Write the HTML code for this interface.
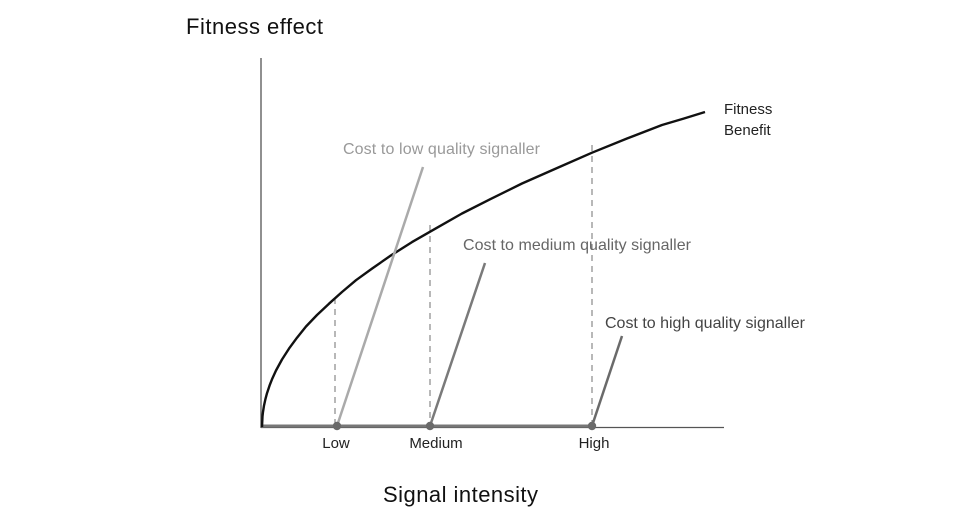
<!DOCTYPE html>
<html><head><meta charset="utf-8"><style>
body{margin:0;background:#fff}
svg{display:block;font-family:"Liberation Sans",sans-serif}
</style></head><body>
<svg width="960" height="521" viewBox="0 0 960 521">
<line x1="261" y1="58" x2="261" y2="428" stroke="#555" stroke-width="1.3"/>
<line x1="261" y1="427.5" x2="724" y2="427.5" stroke="#555" stroke-width="1.3"/>
<line x1="262" y1="426" x2="592" y2="426" stroke="#777" stroke-width="3"/>
<g stroke="#888" stroke-width="1.2" stroke-dasharray="6,5">
<line x1="335" y1="298" x2="335" y2="426"/>
<line x1="430" y1="225" x2="430" y2="426"/>
<line x1="592" y1="145" x2="592" y2="426"/>
</g>
<polyline fill="none" stroke="#111" stroke-width="2.4" stroke-linejoin="round" points="262,427 262.5,416.3 263,411.9 264,405.6 265.5,398.8 267,393.2 269.5,385.7 272,379.3 276,370.5 282,359.5 289,348.6 297,337.7 306,326.5 317,315 329,303.7 342,292 356,280.2 372,268.6 391,255.4 412,242.1 436,228.3 462,213.5 490,199.3 522,183.5 556,168.5 592,152.7 627,138.5 662,125 684,118.5 705,112"/>
<line x1="337" y1="426" x2="423" y2="167" stroke="#aaa" stroke-width="2.5"/>
<line x1="430" y1="426" x2="485" y2="263" stroke="#7a7a7a" stroke-width="2.5"/>
<line x1="592" y1="426" x2="622" y2="336" stroke="#6a6a6a" stroke-width="2.5"/>
<g fill="#6a6a6a"><circle cx="337" cy="426" r="4.2"/><circle cx="430" cy="426" r="4.2"/><circle cx="592" cy="426" r="4.2"/></g>
<g font-size="15" fill="#222">
<text x="336" y="448" text-anchor="middle">Low</text>
<text x="436" y="448" text-anchor="middle">Medium</text>
<text x="594" y="448" text-anchor="middle">High</text>
<text x="724" y="114">Fitness</text>
<text x="724" y="135">Benefit</text>
</g>
<text x="343" y="154" font-size="16" fill="#999" textLength="197">Cost to low quality signaller</text>
<text x="463" y="250" font-size="16" fill="#666" textLength="228">Cost to medium quality signaller</text>
<text x="605" y="328" font-size="16" fill="#444" textLength="200">Cost to high quality signaller</text>
<text x="186" y="34" font-size="22" fill="#111" textLength="137">Fitness effect</text>
<text x="383" y="502" font-size="22" fill="#111" textLength="155">Signal intensity</text>
</svg>
</body></html>
